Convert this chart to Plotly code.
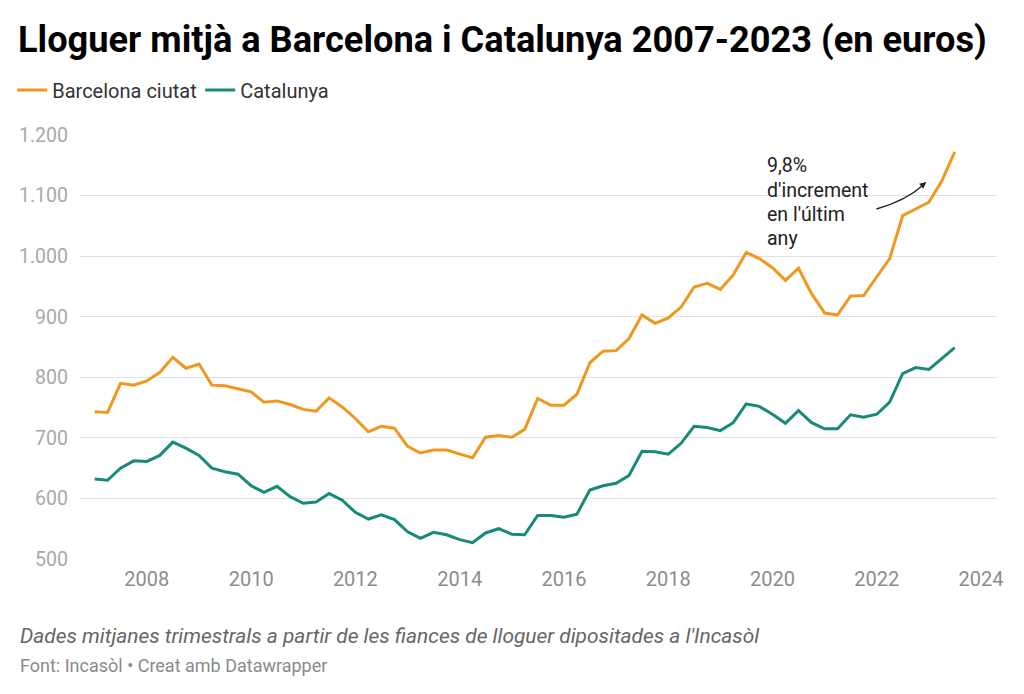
import pandas as pd
import plotly.graph_objects as go

quarters = pd.date_range("2007-01-01", periods=67, freq="QS")

barcelona = [743, 742, 790, 787, 794, 808, 833, 815, 822, 787, 786, 781, 776, 759, 761, 755,
             747, 744, 766, 751, 732, 710, 719, 716, 686, 675, 680, 680, 674, 667, 701, 704,
             701, 714, 765, 754, 754, 772, 824, 843, 844, 864, 903, 889, 898, 916, 949, 955,
             945, 969, 1006, 996, 981, 960, 980, 938, 906, 903, 934, 935, 966, 996, 1067, 1078,
             1089, 1124, 1172]

catalunya = [632, 630, 650, 662, 661, 671, 693, 683, 671, 650, 644, 640, 621, 610, 620, 603,
             592, 594, 608, 597, 577, 566, 573, 565, 545, 534, 544, 540, 532, 527, 543, 550,
             541, 540, 572, 572, 569, 574, 614, 621, 625, 638, 678, 677, 673, 691, 719, 717,
             712, 725, 756, 752, 739, 724, 745, 725, 715, 715, 738, 734, 739, 759, 806, 816,
             813, 831, 849]

series_names = ["Barcelona ciutat", "Catalunya"]
series_colors = ["#f0981d", "#178a78"]

title = "Lloguer mitjà a Barcelona i Catalunya 2007-2023 (en euros)"
note = "Dades mitjanes trimestrals a partir de les fiances de lloguer dipositades a l'Incasòl"
source = "Font: Incasòl • Creat amb Datawrapper"
callout_lines = ["9,8%", "d'increment", "en l'últim", "any"]

FONT = "Roboto"

fig = go.Figure()
for name, vals, col in zip(series_names, [barcelona, catalunya], series_colors):
    fig.add_trace(go.Scatter(x=quarters, y=vals, name=name, mode="lines",
                             line=dict(color=col, width=3)))

L, R, T, B = 77, 27, 135, 135
W, H = 1024, 694
pw, ph = W - L - R, H - T - B

def px(xp):
    return (xp - L) / pw

def py(yp):
    return (H - B - yp) / ph

fig.update_layout(
    width=W, height=H,
    margin=dict(l=L, r=R, t=T, b=B),
    paper_bgcolor="white", plot_bgcolor="white",
    separators=",.",
    font=dict(family=FONT, color="#333333"),
    showlegend=True,
    legend=dict(orientation="h", x=px(9), y=py(90), xanchor="left", yanchor="middle",
                font=dict(size=20, color="#333333", family=FONT),
                entrywidth=143, entrywidthmode="pixels",
                tracegroupgap=0, bgcolor="rgba(0,0,0,0)"),
    xaxis=dict(range=["2006-09-20", "2024-04-22"], tick0="2008-01-01", dtick="M24",
               tickformat="%Y", showgrid=False, zeroline=False, showline=False,
               ticks="", tickfont=dict(size=20, color="#8c8c8c", family=FONT),
               ticklabelstandoff=6),
    yaxis=dict(range=[500, 1200], dtick=100, tickformat=",d", showgrid=True,
               gridcolor="#e2e2e2", gridwidth=1, zeroline=False, showline=False,
               ticks="", tickfont=dict(size=19.5, color="#a8a8a8", family=FONT),
               ticklabelstandoff=11),
)

fig.add_annotation(text="<b>" + title + "</b>", xref="paper", yref="paper",
                   x=px(13), y=py(39), xanchor="left", yanchor="middle", showarrow=False,
                   font=dict(size=36.2, color="#000000", family=FONT))
fig.add_annotation(text="<i>" + note + "</i>", xref="paper", yref="paper",
                   x=px(15), y=py(636), xanchor="left", yanchor="middle", showarrow=False,
                   font=dict(size=20.9, color="#666666", family=FONT))
fig.add_annotation(text=source, xref="paper", yref="paper",
                   x=px(15), y=py(665), xanchor="left", yanchor="middle", showarrow=False,
                   font=dict(size=18, color="#8a8a8a", family=FONT))
for i, line in enumerate(callout_lines):
    fig.add_annotation(text=line, xref="paper", yref="paper",
                       x=px(764), y=py(166 + 24 * i), xanchor="left", yanchor="middle",
                       align="left", showarrow=False,
                       font=dict(size=19.5, color="#222222", family=FONT))

# curved arrow
x0, y0 = px(876), py(209)
cx, cy = px(905), py(201)
x1, y1 = px(923), py(185)
fig.add_shape(type="path", xref="paper", yref="paper",
              path=f"M {x0},{y0} Q {cx},{cy} {x1},{y1}",
              line=dict(color="#222222", width=1.3))
fig.add_annotation(xref="paper", yref="paper", axref="pixel", ayref="pixel",
                   x=px(926), y=py(182), ax=-6, ay=5, text="", showarrow=True,
                   arrowhead=2, arrowsize=1, arrowwidth=1.3, arrowcolor="#222222")

fig.write_html("out.html", config={"displayModeBar": False},
               post_script="document.body.style.margin='0px';")
